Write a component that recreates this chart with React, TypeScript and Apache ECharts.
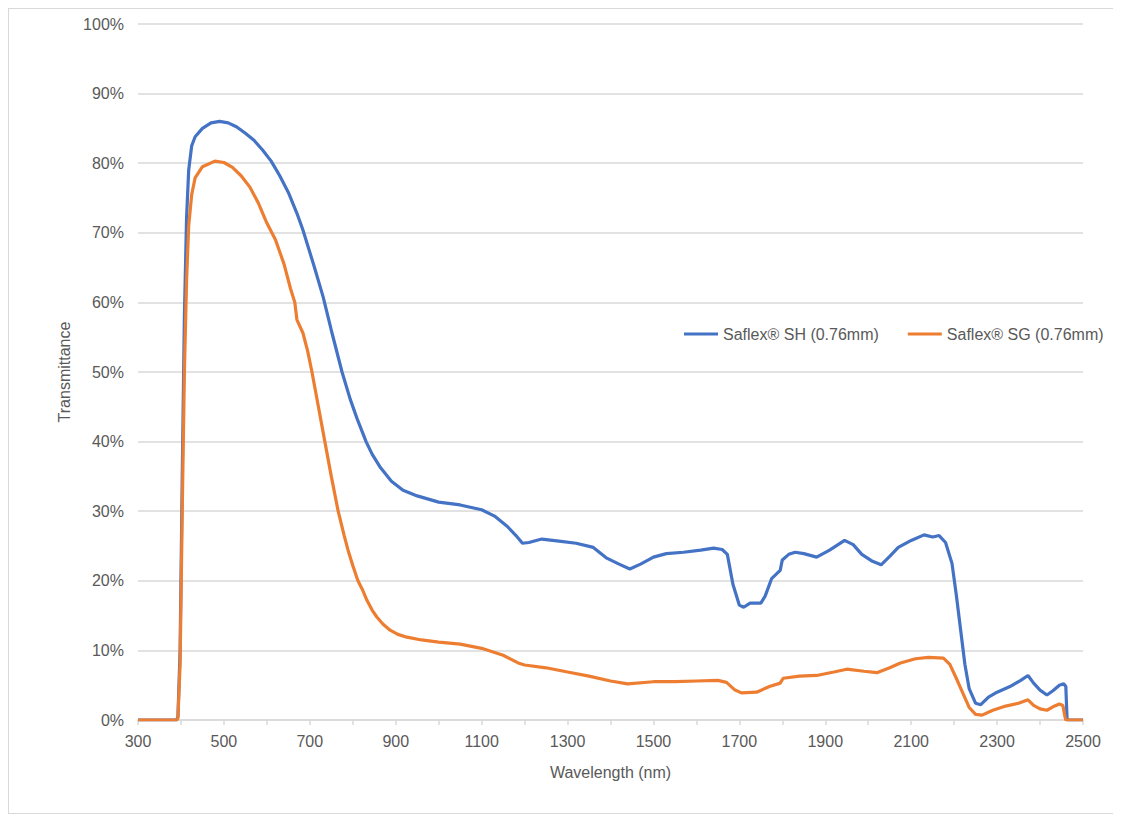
import React, { useEffect, useRef } from "react";
import * as echarts from "echarts";

const waveSH = [300, 390, 393, 398, 403, 408, 413, 418, 425, 433, 450, 470, 490, 510, 530, 550, 570, 590, 610, 630, 650, 670, 684, 710, 731, 750, 775, 794, 810, 831, 845, 863, 890, 917, 950, 1000, 1050, 1100, 1130, 1160, 1180, 1195, 1210, 1240, 1280, 1320, 1360, 1390, 1420, 1445, 1470, 1500, 1530, 1570, 1610, 1640, 1660, 1672, 1685, 1700, 1710, 1725, 1750, 1760, 1775, 1795, 1800, 1815, 1830, 1850, 1880, 1910, 1945, 1965, 1985, 2010, 2030, 2050, 2070, 2100, 2130, 2150, 2165, 2180, 2195, 2205, 2215, 2225, 2235, 2250, 2262, 2280, 2300, 2330, 2355, 2372, 2385, 2400, 2416, 2430, 2445, 2455, 2460, 2463, 2500];
const valSH = [0, 0, 0.5, 10, 35, 58, 72, 79, 82.5, 83.8, 85, 85.8, 86, 85.8, 85.2, 84.3, 83.3, 81.9, 80.3, 78.2, 75.8, 72.8, 70.4, 65.2, 60.8, 56.0, 50.0, 46.1, 43.3, 40.0, 38.2, 36.4, 34.3, 33.0, 32.2, 31.3, 30.9, 30.2, 29.3, 27.8, 26.5, 25.4, 25.5, 26.0, 25.7, 25.4, 24.8, 23.3, 22.4, 21.7, 22.4, 23.4, 23.9, 24.1, 24.4, 24.7, 24.5, 23.8, 19.5, 16.5, 16.2, 16.8, 16.8, 17.8, 20.3, 21.5, 23.0, 23.8, 24.1, 23.9, 23.4, 24.4, 25.8, 25.2, 23.8, 22.8, 22.3, 23.5, 24.8, 25.8, 26.6, 26.3, 26.5, 25.5, 22.5, 18, 13, 8, 4.5, 2.4, 2.2, 3.3, 4.0, 4.8, 5.7, 6.4, 5.3, 4.3, 3.6, 4.2, 5.0, 5.2, 4.8, 0, 0];

const waveSG = [300, 390, 393, 398, 403, 408, 413, 418, 425, 433, 450, 479, 500, 520, 540, 560, 580, 600, 620, 640, 655, 665, 670, 684, 695, 705, 720, 735, 750, 766, 780, 789, 800, 812, 822, 833, 845, 856, 870, 887, 905, 926, 960, 1000, 1050, 1100, 1150, 1185, 1200, 1250, 1300, 1350, 1400, 1440, 1500, 1550, 1600, 1650, 1670, 1690, 1705, 1740, 1770, 1795, 1802, 1840, 1880, 1920, 1950, 1990, 2020, 2050, 2075, 2110, 2140, 2175, 2190, 2205, 2220, 2235, 2250, 2265, 2290, 2320, 2350, 2372, 2385, 2400, 2416, 2430, 2445, 2453, 2458, 2460, 2500];
const valSG = [0, 0, 0.3, 8, 30, 50, 63, 71, 75.5, 77.9, 79.5, 80.3, 80.1, 79.4, 78.2, 76.6, 74.3, 71.4, 69.0, 65.5, 62.0, 60.0, 57.5, 55.6, 53.0, 50.0, 45.0, 40.0, 35.0, 30.0, 26.5, 24.4, 22.2, 20.0, 18.8, 17.2, 15.8, 14.8, 13.8, 12.9, 12.3, 11.9, 11.5, 11.2, 10.9, 10.3, 9.3, 8.2, 7.9, 7.5, 6.9, 6.3, 5.6, 5.2, 5.5, 5.5, 5.6, 5.7, 5.4, 4.3, 3.9, 4.0, 4.8, 5.3, 6.0, 6.3, 6.4, 6.9, 7.3, 7.0, 6.8, 7.5, 8.2, 8.8, 9.0, 8.9, 8.0, 6.0, 3.9, 1.8, 0.8, 0.7, 1.4, 2.0, 2.4, 2.9, 2.1, 1.6, 1.4, 1.9, 2.3, 2.1, 0.5, 0, 0];

const seriesNames = ["Saflex® SH (0.76mm)", "Saflex® SG (0.76mm)"];

export default function App() {
  const ref = useRef<HTMLDivElement>(null);
  useEffect(() => {
    if (!ref.current) return;
    const chart = echarts.init(ref.current, undefined, { renderer: "svg" });
    const font = "Arial, 'Liberation Sans', sans-serif";
    chart.setOption({
      animation: false,
      textStyle: { fontFamily: font },
      grid: { left: 129, right: 30, top: 15, bottom: 93 },
      legend: {
        left: 670,
        top: 312,
        itemWidth: 34,
        itemHeight: 3,
        itemGap: 29,
        icon: "rect",
        textStyle: { fontSize: 16, color: "#595959", fontFamily: font },
        data: seriesNames,
      },
      xAxis: {
        type: "value",
        min: 300,
        max: 2500,
        interval: 100,
        name: "Wavelength (nm)",
        nameLocation: "middle",
        nameGap: 44,
        nameTextStyle: { fontSize: 16, color: "#595959" },
        axisLine: { show: true, lineStyle: { color: "#d9d9d9", width: 1.5 } },
        axisTick: { show: true, length: 5, lineStyle: { color: "#d9d9d9", width: 1.5 } },
        splitLine: { show: false },
        axisLabel: {
          fontSize: 16,
          color: "#595959",
          margin: 13,
          formatter: (v: number) => ((v - 300) % 200 === 0 ? String(v) : ""),
        },
      },
      yAxis: {
        type: "value",
        min: 0,
        max: 100,
        interval: 10,
        name: "Transmittance",
        nameLocation: "middle",
        nameGap: 62,
        nameTextStyle: { fontSize: 16, color: "#595959" },
        axisLine: { show: false },
        axisTick: { show: false },
        splitLine: { lineStyle: { color: "#d9d9d9", width: 1.5 } },
        axisLabel: { fontSize: 16, color: "#595959", margin: 14, formatter: "{value}%" },
      },
      series: [
        {
          name: seriesNames[0],
          type: "line",
          showSymbol: false,
          symbol: "none",
          data: waveSH.map((w, i) => [w, valSH[i]]),
          lineStyle: { color: "#4472C4", width: 3.2 },
          itemStyle: { color: "#4472C4" },
          z: 3,
        },
        {
          name: seriesNames[1],
          type: "line",
          showSymbol: false,
          symbol: "none",
          data: waveSG.map((w, i) => [w, valSG[i]]),
          lineStyle: { color: "#ED7D31", width: 3.2 },
          itemStyle: { color: "#ED7D31" },
          z: 4,
        },
      ],
    });
    return () => chart.dispose();
  }, []);
  return (
    <div style={{ width: 1106, height: 806, border: "1px solid #d9d9d9", boxSizing: "border-box", background: "#fff" }}>
      <div ref={ref} style={{ width: 1104, height: 804 }} />
    </div>
  );
}
